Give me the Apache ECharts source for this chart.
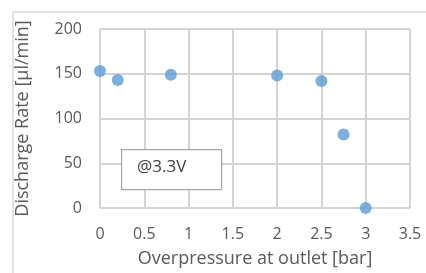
<!DOCTYPE html>
<html>
<head>
<meta charset="utf-8">
<script src="https://cdn.jsdelivr.net/npm/echarts@6/dist/echarts.min.js"></script>
<style>
  html, body { margin: 0; padding: 0; background: #fff; }
  #chart { width: 426px; height: 273px; }
</style>
</head>
<body>
<div id="chart"></div>
<script>
// 数据
const pressure = [0, 0.2, 0.8, 2, 2.5, 2.75, 3];
const rate = [153, 143, 149, 148, 142, 82, 0];
const xTicks = [0, 0.5, 1, 1.5, 2, 2.5, 3, 3.5];
const yTicks = [0, 50, 100, 150, 200];

const chart = echarts.init(document.getElementById('chart'));
const font = '"Open Sans", sans-serif';
const grey = '#595959';
const gridColor = '#d4d4d4';

chart.setOption({
  animation: false,
  grid: { left: 100, right: 16, top: 29, bottom: 60 },
  xAxis: {
    type: 'value',
    min: xTicks[0],
    max: xTicks[xTicks.length - 1],
    interval: 0.5,
    name: 'Overpressure at outlet [bar]',
    nameLocation: 'middle',
    nameGap: 42,
    nameTextStyle: { color: grey, fontSize: 18, fontFamily: font },
    axisLine: { show: false },
    axisTick: { show: false },
    axisLabel: { color: grey, fontSize: 16, fontFamily: font, margin: 18 },
    splitLine: { show: true, lineStyle: { color: gridColor, width: 2 } }
  },
  yAxis: {
    type: 'value',
    min: yTicks[0],
    max: yTicks[yTicks.length - 1],
    interval: 50,
    name: 'Discharge Rate [µl/min]',
    nameLocation: 'middle',
    nameGap: 68,
    nameTextStyle: { color: grey, fontSize: 18, fontFamily: font },
    axisLine: { show: false },
    axisTick: { show: false },
    axisLabel: { color: grey, fontSize: 16, fontFamily: font, margin: 18 },
    splitLine: { show: true, lineStyle: { color: gridColor, width: 2 } }
  },
  graphic: [
    {
      type: 'polyline',
      shape: { points: [[13, 273], [13, 12], [426, 12]] },
      style: { fill: null, stroke: '#d9d9d9', lineWidth: 1.5 },
      silent: true
    },
    {
      type: 'rect',
      left: 121, top: 149,
      shape: { width: 100, height: 40 },
      style: { fill: '#fff', stroke: '#a6a6a6', lineWidth: 1.2 },
      z: 10
    },
    {
      type: 'text',
      left: 137, top: 159,
      style: { text: '@3.3V', fill: '#404040', fontSize: 17, fontFamily: font },
      z: 11
    }
  ],
  series: [{
    type: 'scatter',
    data: pressure.map((p, i) => [p, rate[i]]),
    symbolSize: 12,
    itemStyle: { color: '#5b9bd5' },
    z: 5
  }]
});
</script>
</body>
</html>
